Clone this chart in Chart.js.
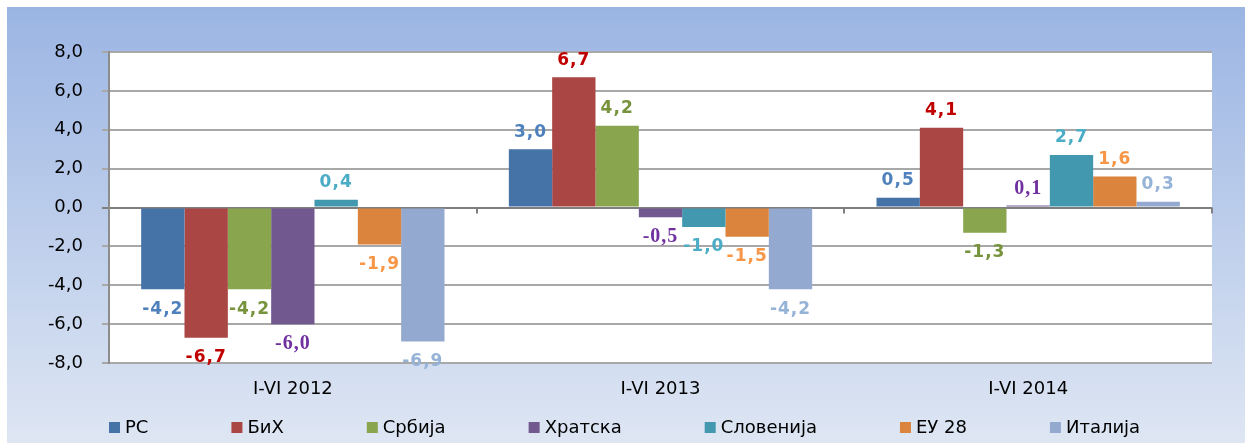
<!DOCTYPE html>
<html>
<head>
<meta charset="utf-8">
<script src="https://cdn.jsdelivr.net/npm/chart.js@4.4.0/dist/chart.umd.min.js"></script>
<style>
  html, body { margin: 0; padding: 0; background: #fff; }
  #wrap { width: 1245px; height: 443px; }
</style>
</head>
<body>
<div id="wrap"><canvas id="chart" width="1245" height="443"></canvas></div>
<script>
// ── Data ──────────────────────────────────────────────────────────────────────
const periods     = ['I-VI 2012', 'I-VI 2013', 'I-VI 2014'];
const seriesNames = ['РС', 'БиХ', 'Србија', 'Хратска', 'Словенија', 'ЕУ 28', 'Италија'];
const rs        = [-4.2,  3.0,  0.5];
const bih       = [-6.7,  6.7,  4.1];
const srbija    = [-4.2,  4.2, -1.3];
const hrvatska  = [-6.0, -0.5,  0.1];
const slovenija = [ 0.4, -1.0,  2.7];
const eu28      = [-1.9, -1.5,  1.6];
const italija   = [-6.9, -4.2,  0.3];
const yMin = -8, yMax = 8, yStep = 2;

// ── Styles ────────────────────────────────────────────────────────────────────
const barColors   = ['#4572a7', '#aa4643', '#89a54e', '#71588f', '#4198af', '#db843d', '#93a9cf'];
const labelColors = ['#4f81bd', '#c00000', '#77933c', '#7030a0', '#4bacc6', '#f79646', '#95b3d7'];
const labelFonts  = [
  'bold 17px "DejaVu Sans"', 'bold 17px "DejaVu Sans"', 'bold 17px "DejaVu Sans"',
  'bold 20px "Liberation Serif"', 'bold 17px "DejaVu Sans"', 'bold 17px "DejaVu Sans"',
  'bold 17px "DejaVu Sans"',
];
const FONT = '"DejaVu Sans"';

const fmt = v => v.toFixed(1).replace('.', ',');
const allSeries = [rs, bih, srbija, hrvatska, slovenija, eu28, italija];

// ── Plugins ───────────────────────────────────────────────────────────────────
const background = {
  id: 'background',
  beforeDraw(chart) {
    const { ctx, width, height, chartArea: a } = chart;
    ctx.save();
    ctx.fillStyle = '#fff';
    ctx.fillRect(0, 0, width, height);
    const g = ctx.createLinearGradient(0, 7, 0, height);
    g.addColorStop(0, '#9bb5e3');
    g.addColorStop(1, '#dee6f3');
    ctx.fillStyle = g;
    ctx.fillRect(7, 7, width - 7, height - 7);
    ctx.fillStyle = '#fff';
    ctx.fillRect(a.left, a.top, a.right - a.left, a.bottom - a.top);
    ctx.restore();
  },
};

// small category tick marks hanging off the zero line
const zeroTicks = {
  id: 'zeroTicks',
  afterDraw(chart) {
    const { ctx, chartArea: a } = chart;
    const y0 = chart.scales.y.getPixelForValue(0);
    const step = (a.right - a.left) / periods.length;
    ctx.save();
    ctx.strokeStyle = '#7f7f7f';
    ctx.lineWidth = 2;
    for (let i = 1; i <= periods.length; i++) {
      const x = Math.round(a.left + step * i);
      ctx.beginPath();
      ctx.moveTo(x, y0);
      ctx.lineTo(x, y0 + 6);
      ctx.stroke();
    }
    ctx.restore();
  },
};

const barLabels = {
  id: 'barLabels',
  afterDatasetsDraw(chart) {
    const ctx = chart.ctx;
    chart.data.datasets.forEach((ds, i) => {
      const meta = chart.getDatasetMeta(i);
      ctx.save();
      ctx.font = labelFonts[i];
      ctx.fillStyle = labelColors[i];
      ctx.textAlign = 'center';
      ctx.textBaseline = 'middle';
      ctx.letterSpacing = '1px';
      meta.data.forEach((bar, j) => {
        const v = ds.data[j];
        const y = v >= 0 ? bar.y - 17 : bar.y + 20;
        ctx.fillText(fmt(v), bar.x, y);
      });
      ctx.restore();
    });
  },
};

const legendRow = {
  id: 'legendRow',
  afterDraw(chart) {
    const ctx = chart.ctx;
    const y = 428;
    let x = chart.chartArea.left;
    ctx.save();
    ctx.font = '18px ' + FONT;
    ctx.textBaseline = 'middle';
    ctx.textAlign = 'left';
    seriesNames.forEach((name, i) => {
      ctx.fillStyle = barColors[i];
      ctx.fillRect(x, y - 6, 11, 11);
      ctx.fillStyle = '#000';
      ctx.fillText(name, x + 16, y);
      x += 16 + ctx.measureText(name).width + 83;
    });
    ctx.restore();
  },
};

// ── Chart ─────────────────────────────────────────────────────────────────────
const ctx = document.getElementById('chart').getContext('2d');
const chart = new Chart(ctx, {
  type: 'bar',
  data: {
    labels: periods,
    datasets: seriesNames.map((name, i) => ({
      label: name,
      data: allSeries[i],
      backgroundColor: barColors[i],
      borderWidth: 0,
      categoryPercentage: 0.825,
      barPercentage: 1.0,
    })),
  },
  options: {
    responsive: false,
    animation: false,
    devicePixelRatio: 1,
    layout: { padding: { left: 0, right: 33, top: 52, bottom: 0 } },
    plugins: {
      legend: { display: false },
      tooltip: { enabled: false },
    },
    scales: {
      x: {
        grid: { display: false, drawTicks: false },
        border: { display: false },
        ticks: { color: '#000', font: { family: FONT, size: 18 }, padding: 16 },
        afterFit: s => { s.height = 80; },
      },
      y: {
        min: yMin,
        max: yMax,
        ticks: {
          stepSize: yStep,
          color: '#000',
          font: { family: FONT, size: 18 },
          padding: 19,
          callback: v => fmt(v),
        },
        grid: {
          color: c => c.tick && c.tick.value === 0 ? '#7f7f7f' : '#a8a8a8',
          tickColor: c => c.tick && c.tick.value === 0 ? '#7f7f7f' : '#a8a8a8',
          lineWidth: 2,
          tickLength: 7,
        },
        border: { color: '#8c8c8c', width: 2 },
        afterFit: s => { s.width = 109; },
      },
    },
  },
  plugins: [background, zeroTicks, barLabels, legendRow],
});
</script>
</body>
</html>
